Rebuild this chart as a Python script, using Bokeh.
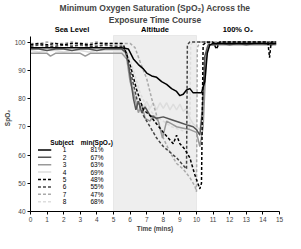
from bokeh.plotting import figure
from bokeh.models import BoxAnnotation, FixedTicker, Range1d, Title
from bokeh.embed import file_html
from bokeh.resources import INLINE
from bokeh.core.properties import value

# ---- data ----
subjects = ["1", "2", "3", "4", "5", "6", "7", "8"]
min_spo2 = ["81%", "67%", "63%", "69%", "48%", "55%", "47%", "68%"]
phases = ["Sea Level", "Altitude", "100% O\u2082"]
phase_centers = [2.5, 7.5, 12.5]
altitude_start = 5
altitude_end = 10

t1 = [0, 0.5, 1, 1.5, 2, 2.5, 3, 3.5, 4, 4.5, 5, 5.5, 5.9, 6.2, 6.5, 6.8, 7.0, 7.3, 7.6, 7.9, 8.2, 8.5,
      8.8, 9.0, 9.2, 9.4, 9.6, 9.8, 10.0, 10.3, 10.5, 10.65, 10.8, 11, 11.5, 12, 12.5, 13, 13.5, 14, 14.5, 14.8]
v1 = [98, 98, 98, 98, 98, 98, 98, 98, 98, 98, 98, 98, 97.5, 94, 92, 90.5, 89, 88, 87.5, 86, 85, 83.5,
      82.5, 81, 81.5, 83, 83.5, 82, 82, 82, 86, 96, 99, 99.5, 99.5, 99.5, 99.5, 99.5, 99.5, 99.5, 99.5, 99.5]

t2 = [0, 0.5, 1, 1.5, 2, 2.5, 3, 3.5, 4, 4.5, 5, 5.5, 5.8, 6.0, 6.2, 6.35, 6.5, 6.7, 6.9, 7.2, 7.6, 8.0,
      8.5, 9.0, 9.5, 9.8, 10.0, 10.2, 10.35, 10.5, 10.7, 11, 11.5, 12, 12.5, 13, 13.5, 14, 14.5, 14.8]
v2 = [97.5, 97.5, 97, 97.5, 97.5, 97, 97.5, 97.5, 97, 97.5, 97.5, 97.5, 96, 88, 80, 76, 79, 75, 77, 74, 73, 73.5,
      72.5, 71.5, 70.5, 70, 69, 67, 75, 95, 99, 99, 99.5, 99, 99.5, 99, 99.5, 99.5, 99, 99.5]

t3 = [0, 0.5, 1, 1.2, 1.5, 2, 2.5, 3, 3.3, 3.6, 4, 4.5, 5, 5.5, 5.8, 6.0, 6.3, 6.5, 6.7, 6.9, 7.2, 7.4,
      7.7, 7.95, 8.2, 8.5, 8.8, 9.2, 9.6, 10.0, 10.2, 10.4, 10.6, 10.8, 11, 11.5, 12, 12.5, 13, 13.5, 14, 14.5, 14.8]
v3 = [96, 96, 96, 95, 96, 96, 96, 96, 95, 96, 96, 96, 96, 96, 94, 86, 80, 75, 78, 73, 72, 74,
      72, 66, 72, 71, 70, 69.5, 69, 68, 63, 70, 96, 99, 99, 99, 99, 99, 99, 99, 99, 99, 99]

t4 = [0, 0.5, 1, 1.5, 2, 2.5, 3, 3.5, 4, 4.5, 5, 5.5, 5.8, 6.0, 6.4, 6.8, 7.0, 7.2, 7.4, 7.6, 7.8, 8.0,
      8.2, 8.4, 8.6, 8.8, 9.0, 9.2, 9.4, 9.6, 9.8, 10.0, 10.2, 10.4, 10.6, 10.8, 11, 11.5, 12, 12.5, 13,
      13.5, 14, 14.5, 14.8]
v4 = [97, 96.5, 97, 97, 96.5, 97, 97, 96.5, 97, 97, 97, 97, 95, 88, 80, 77, 79, 76.5, 78.5, 76, 78.5, 76.5,
      78.5, 76, 78, 76, 78, 75.5, 76.5, 73, 71, 70, 69, 80, 98, 99, 99, 99, 99, 99, 99,
      99, 99, 99, 99]

t5 = [0, 0.5, 1, 1.5, 2, 2.5, 3, 3.5, 4, 4.5, 5, 5.5, 5.6, 6.0, 6.4, 6.8, 7.2, 7.6, 8.0, 8.3, 8.6, 8.8,
      9.0, 9.3, 9.6, 9.9, 10.2, 10.3, 10.4, 10.6, 11, 11.2, 11.4, 12, 12.5, 13, 13.5, 14, 14.3, 14.4, 14.5, 14.8]
v5 = [99, 99.5, 99, 99.5, 99, 99.5, 99.5, 99, 99.5, 99.5, 99.5, 99.5, 99, 92, 83, 76, 74, 71, 68, 66, 64, 67,
      64, 62, 59, 53, 48, 50, 99, 100, 100, 97.5, 100, 100, 100, 100, 100, 100, 100, 94.5, 100, 100]

t6 = [0, 0.5, 1, 1.5, 2, 2.5, 3, 3.5, 4, 4.5, 5, 5.5, 5.7, 6.0, 6.4, 6.8, 7.2, 7.6, 8.0, 8.4, 8.8, 9.1,
      9.4, 9.45, 9.6, 10, 10.5, 11, 11.5, 12, 12.5, 13, 13.5, 14, 14.5, 14.8]
v6 = [98.5, 99, 98.5, 98.5, 99, 98.5, 99, 98.5, 98.5, 99, 98.5, 98.5, 97, 90, 80, 74, 70, 66, 63, 61, 59, 57,
      55, 99, 100, 100, 100, 99.5, 100, 100, 100, 100, 100, 100, 100, 100]

t7 = [0, 0.5, 1, 1.5, 2, 2.5, 3, 3.5, 4, 4.5, 5, 5.5, 6.0, 6.3, 6.6, 7.0, 7.3, 7.6, 8.0, 8.4, 8.8, 9.2,
      9.6, 9.9, 10.0, 10.05, 10.2, 10.5, 11, 11.5, 12, 12.5, 13, 13.5, 14, 14.5, 14.8]
v7 = [99.5, 99.5, 100, 99.5, 99.5, 100, 99.5, 99.5, 100, 99.5, 99.5, 99.5, 99.5, 98, 93, 87, 80, 74, 66, 61, 57, 55,
      52, 49, 47, 98, 100, 100, 100, 100, 100, 100, 100, 100, 100, 100, 100]

t8 = [0, 0.5, 1, 1.5, 2, 2.5, 3, 3.5, 4, 4.5, 5, 5.5, 5.8, 6.2, 6.6, 7.0, 7.5, 8.0, 8.5, 9.0, 9.4, 9.6,
      9.65, 9.8, 10.5, 11, 11.5, 12, 12.5, 13, 13.5, 14, 14.5, 14.8]
v8 = [98.5, 98, 98.5, 98.5, 98, 98.5, 98.5, 98, 98.5, 98.5, 98.5, 98.5, 97, 90, 82, 77, 74, 72, 70, 69, 68, 70,
      99, 100, 100, 100, 100, 100, 100, 100, 100, 100, 100, 100]

x_ticks = list(range(0, 16))
y_ticks = [40, 50, 60, 70, 80, 90, 100]

# ---- styles ----
series = [
    (t1, v1, "#000000", "solid"),
    (t2, v2, "#555555", "solid"),
    (t3, v3, "#999999", "solid"),
    (t4, v4, "#dddddd", "solid"),
    (t5, v5, "#000000", "3 2"),
    (t6, v6, "#444444", "3 2"),
    (t7, v7, "#aaaaaa", "3 2"),
    (t8, v8, "#dddddd", "3 2"),
]
FONT = "Liberation Sans"
Y_TOP = 101.8

p = figure(width=285, height=233, output_backend="svg", toolbar_location=None,
           x_range=Range1d(0, 15), y_range=Range1d(40, 106.2), title=None,
           min_border_left=2, min_border_right=6, min_border_bottom=0, min_border_top=0)
p.add_layout(Title(text="Exposure Time Course", align="center", text_font=FONT,
                   text_font_size="8.5px", text_font_style="bold", standoff=0, offset=16), "above")
p.add_layout(Title(text="Minimum Oxygen Saturation (SpO\u2082) Across the", align="center", text_font=FONT,
                   text_font_size="8.5px", text_font_style="bold", standoff=0, offset=16), "above")
p.add_layout(Title(text="Time (mins)", align="center", text_font=FONT, text_font_size="6.5px",
                   text_font_style="bold", standoff=0, offset=8, vertical_align="top"), "below")
p.outline_line_color = None
p.grid.visible = False
p.background_fill_color = "white"
p.border_fill_color = "white"

for ax in (p.xaxis[0], p.yaxis[0]):
    ax.axis_line_color = "black"
    ax.axis_line_width = 1
    ax.major_tick_line_color = "black"
    ax.major_tick_out = 3
    ax.major_tick_in = 0
    ax.minor_tick_line_color = None
    ax.major_label_text_font = FONT
    ax.major_label_text_font_size = "6.5px"
    ax.major_label_standoff = 2
    ax.axis_label_text_font = FONT
    ax.axis_label_text_font_size = "6.5px"
    ax.axis_label_text_font_style = "bold"
    ax.axis_label_standoff = 1

p.xaxis.ticker = FixedTicker(ticks=x_ticks)
p.yaxis.ticker = FixedTicker(ticks=y_ticks)
p.yaxis.bounds = (40, Y_TOP)
p.yaxis.axis_label = "SpO\u2082"

p.add_layout(BoxAnnotation(left=altitude_start, right=altitude_end, bottom=40, top=102.3,
                           fill_color="#eeeeee", fill_alpha=1, line_color="#c8c8c8",
                           line_width=1, level="underlay"))

for i in [7, 3, 6, 2, 5, 1, 4, 0]:
    t, v, c, d = series[i]
    p.line(t, v, line_color=c, line_dash=d, line_width=1.5)

p.text(x=phase_centers, y=[104.3] * 3, text=phases, text_align="center", text_baseline="middle",
       text_font=value(FONT), text_font_size="7.5px", text_font_style="bold")

# ---- legend table ----
hdr_y = 64.4
row0 = 61.8
step = 2.62
p.text(x=[1.9, 4.0], y=[hdr_y, hdr_y], text=["Subject", "min(SpO\u2082)"], text_align="center",
       text_baseline="middle", text_font=value(FONT), text_font_size="6.5px", text_font_style="bold")
ys = [row0 - k * step for k in range(len(subjects))]
for k in range(len(subjects)):
    t, v, c, d = series[k]
    p.line([0.45, 1.25], [ys[k], ys[k]], line_color=c, line_dash=d, line_width=1.5)
p.text(x=[2.05] * len(subjects), y=ys, text=subjects, text_align="center", text_baseline="middle",
       text_font=value(FONT), text_font_size="6.5px")
p.text(x=[4.0] * len(subjects), y=ys, text=min_spo2, text_align="center", text_baseline="middle",
       text_font=value(FONT), text_font_size="6.5px")

open("out.html", "w").write(file_html(p, INLINE))
